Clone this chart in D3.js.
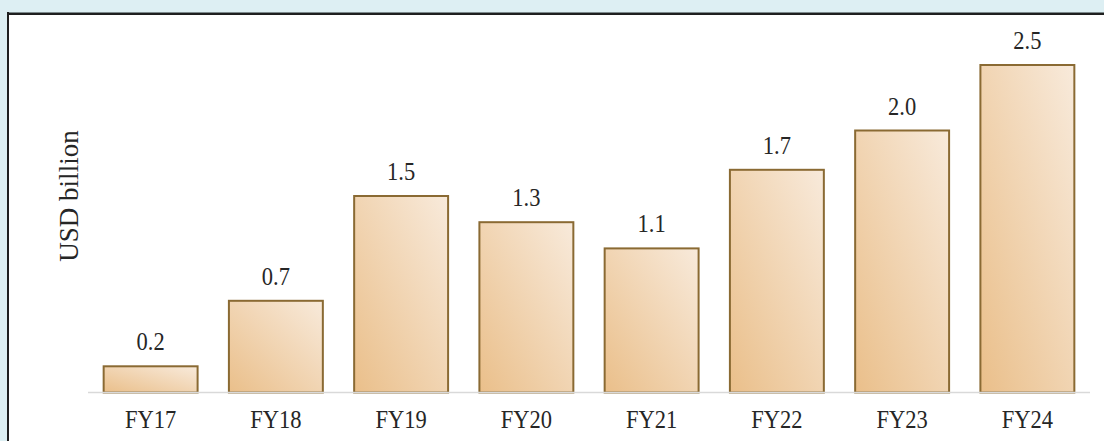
<!DOCTYPE html>
<html>
<head>
<meta charset="utf-8">
<script src="https://cdn.jsdelivr.net/npm/d3@7"></script>
<style>
  html, body { margin: 0; padding: 0; background: #DDEFF3; }
  svg { display: block; }
  text { font-family: "Liberation Serif", "Times New Roman", serif; fill: #262626; }
</style>
</head>
<body>
<svg id="chart" width="1104" height="441"></svg>
<script>
// Annual values, USD billion
const categories = ["FY17", "FY18", "FY19", "FY20", "FY21", "FY22", "FY23", "FY24"];
const values = [0.2, 0.7, 1.5, 1.3, 1.1, 1.7, 2.0, 2.5];
const valueLabels = ["0.2", "0.7", "1.5", "1.3", "1.1", "1.7", "2.0", "2.5"];
const axisTitle = "USD billion";

const W = 1104, H = 441;
const svg = d3.select("#chart");

// Bar fill: warm sand gradient, darker at lower left
const defs = svg.append("defs");
const grad = defs.append("linearGradient")
  .attr("id", "barFill")
  .attr("x1", 0).attr("y1", 1).attr("x2", 1).attr("y2", 0);
grad.append("stop").attr("offset", "0%").attr("stop-color", "#EABF8A");
grad.append("stop").attr("offset", "100%").attr("stop-color", "#F8EADB");

// White panel with dark top and left border
svg.append("rect").attr("x", 8).attr("y", 13).attr("width", W - 8).attr("height", H - 13).attr("fill", "#ffffff");
svg.append("line").attr("x1", 7).attr("x2", W).attr("y1", 12.5).attr("y2", 12.5)
  .attr("stroke", "#7d8a8c").attr("stroke-width", 1);
svg.append("line").attr("x1", 7).attr("x2", W).attr("y1", 14).attr("y2", 14)
  .attr("stroke", "#1f1f1f").attr("stroke-width", 2);
svg.append("line").attr("x1", 8).attr("x2", 8).attr("y1", 12).attr("y2", H)
  .attr("stroke", "#1f1f1f").attr("stroke-width", 2);

const x = d3.scaleBand()
  .domain(categories)
  .range([88, 1090])
  .paddingInner(0.25)
  .paddingOuter(0.125);

const y = d3.scaleLinear()
  .domain([0, 2.5])
  .range([392.5, 65]);

const data = categories.map((c, i) => ({ cat: c, value: values[i], label: valueLabels[i] }));

// Bars
svg.append("g").selectAll("rect")
  .data(data)
  .join("rect")
  .attr("x", d => x(d.cat))
  .attr("y", d => y(d.value))
  .attr("width", x.bandwidth())
  .attr("height", d => y(0) - y(d.value))
  .attr("fill", "url(#barFill)")
  .attr("stroke", "#8A6A33")
  .attr("stroke-width", 2);

// Baseline
svg.append("line")
  .attr("x1", 88).attr("x2", 1090)
  .attr("y1", y(0)).attr("y2", y(0))
  .attr("stroke", "#D9D9D9").attr("stroke-width", 1.5);

// Labels use a slightly tall, narrow serif setting
const stretch = 1.09;

// Value labels
svg.append("g").selectAll("text")
  .data(data)
  .join("text")
  .attr("transform", d => `translate(${x(d.cat) + x.bandwidth() / 2},${y(d.value) - 16}) scale(1,${stretch})`)
  .attr("text-anchor", "middle")
  .attr("font-size", 22.5)
  .text(d => d.label);

// Category axis
const xAxis = svg.append("g")
  .attr("transform", `translate(0,${y(0)})`)
  .call(d3.axisBottom(x).tickSize(0).tickPadding(0));
xAxis.select(".domain").remove();
xAxis.selectAll("text")
  .attr("dy", null)
  .attr("y", null)
  .attr("transform", `translate(0,35) scale(1,${stretch})`)
  .attr("font-size", 22.5)
  .attr("font-family", "Liberation Serif, Times New Roman, serif")
  .attr("fill", "#262626");

// Vertical axis title
svg.append("text")
  .attr("transform", "translate(78,196) rotate(-90)")
  .attr("text-anchor", "middle")
  .attr("font-size", 27)
  .text(axisTitle);
</script>
</body>
</html>
